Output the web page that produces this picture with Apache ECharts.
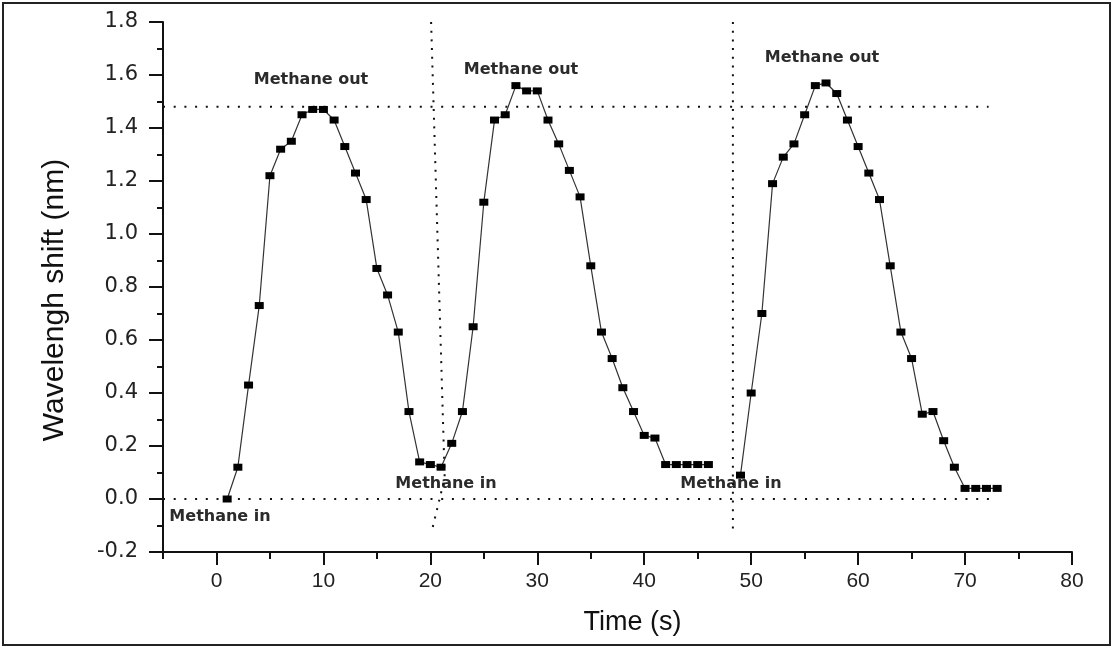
<!DOCTYPE html>
<html lang="en">

<head>
    <meta charset="UTF-8">
    <title>Wavelength shift vs time</title>
    <script type="text/javascript" src="https://cdn.jsdelivr.net/npm/echarts/dist/echarts.min.js"></script>
    <style>
        html,
        body {
            margin: 0;
            padding: 0;
            width: 100%;
            height: 100%;
            background: #fff;
        }

        #container {
            width: 1113px;
            height: 648px;
        }
    </style>
</head>

<body>
    <div id="container"></div>
    <script>
        // first run: two methane in/out cycles
        let run1Time = [1, 2, 3, 4, 5, 6, 7, 8, 9, 10, 11, 12, 13, 14, 15, 16, 17, 18, 19, 20, 21, 22, 23,
            24, 25, 26, 27, 28, 29, 30, 31, 32, 33, 34, 35, 36, 37, 38, 39, 40, 41, 42, 43, 44, 45, 46];
        let run1Shift = [0.00, 0.12, 0.43, 0.73, 1.22, 1.32, 1.35, 1.45, 1.47, 1.47, 1.43, 1.33, 1.23, 1.13,
            0.87, 0.77, 0.63, 0.33, 0.14, 0.13, 0.12, 0.21, 0.33, 0.65, 1.12, 1.43, 1.45, 1.56, 1.54, 1.54,
            1.43, 1.34, 1.24, 1.14, 0.88, 0.63, 0.53, 0.42, 0.33, 0.24, 0.23, 0.13, 0.13, 0.13, 0.13, 0.13];
        // second run: third cycle
        let run2Time = [49, 50, 51, 52, 53, 54, 55, 56, 57, 58, 59, 60, 61, 62, 63, 64, 65, 66, 67, 68, 69,
            70, 71, 72, 73];
        let run2Shift = [0.09, 0.40, 0.70, 1.19, 1.29, 1.34, 1.45, 1.56, 1.57, 1.53, 1.43, 1.33, 1.23, 1.13,
            0.88, 0.63, 0.53, 0.32, 0.33, 0.22, 0.12, 0.04, 0.04, 0.04, 0.04];

        // dotted guide lines, in axis units
        let outLevel = [[-5, 1.48], [72.2, 1.48]];
        let baseLevel = [[-5, 0], [72.6, 0]];
        let switch1 = [[20.07, 1.8], [21.34, 0.08], [20.14, -0.12]];
        let switch2 = [[48.29, 1.8], [48.29, -0.12]];

        let xMajorTicks = [0, 10, 20, 30, 40, 50, 60, 70, 80];
        let xMinorTicks = [-5, 5, 15, 25, 35, 45, 55, 65, 75];

        function zip(xs, ys) {
            return xs.map((x, i) => [x, ys[i]]);
        }

        let chart = echarts.init(document.getElementById('container'));

        let dataStyle = {
            type: 'line',
            xAxisIndex: 0,
            symbol: 'rect',
            symbolSize: [9, 7],
            itemStyle: { color: '#000' },
            lineStyle: { color: '#333', width: 1.2 },
            silent: true,
        };
        let guide = (data, dash) => ({
            type: 'line',
            xAxisIndex: 0,
            data: data,
            symbol: 'none',
            silent: true,
            lineStyle: { color: '#111', width: 2, type: dash },
        });

        let labelFont = {
            font: 'bold 16px "DejaVu Sans"',
            fill: '#2b2b2b',
            align: 'center',
            verticalAlign: 'middle',
        };
        let note = (text, x, y) => ({
            type: 'text',
            x: x,
            y: y,
            silent: true,
            style: Object.assign({ text: text }, labelFont),
        });

        let option = {
            animation: false,
            backgroundColor: '#fff',
            grid: {
                left: 163,
                right: 41,
                top: 22,
                bottom: 96,
                containLabel: false,
            },
            xAxis: [{
                    type: 'value',
                    min: -5,
                    max: 80,
                    position: 'bottom',
                    axisLine: { show: true, onZero: false, lineStyle: { color: '#111', width: 2 } },
                    axisTick: {
                        show: true,
                        customValues: xMajorTicks,
                        length: 13,
                        lineStyle: { color: '#111', width: 2 },
                    },
                    axisLabel: {
                        customValues: xMajorTicks,
                        margin: 19,
                        fontSize: 21,
                        fontFamily: '"Liberation Sans", Arial',
                        color: '#222',
                    },
                    splitLine: { show: false },
                    name: 'Time (s)',
                    nameLocation: 'middle',
                    nameGap: 57,
                    nameTextStyle: {
                        fontSize: 27,
                        fontFamily: '"Liberation Sans", Arial',
                        color: '#111',
                        padding: [0, 0, 0, 30],
                    },
                },
                {
                    type: 'value',
                    min: -5,
                    max: 80,
                    position: 'bottom',
                    axisLine: { show: false, onZero: false },
                    axisTick: {
                        show: true,
                        customValues: xMinorTicks,
                        length: 7,
                        lineStyle: { color: '#111', width: 2 },
                    },
                    axisLabel: { show: false },
                    splitLine: { show: false },
                },
            ],
            yAxis: {
                type: 'value',
                min: -0.2,
                max: 1.8,
                interval: 0.2,
                axisLine: { show: true, onZero: false, lineStyle: { color: '#111', width: 2 } },
                axisTick: { show: true, length: 14, lineStyle: { color: '#111', width: 2 } },
                minorTick: { show: true, splitNumber: 2, length: 6, lineStyle: { color: '#111', width: 2 } },
                axisLabel: {
                    margin: 25,
                    fontSize: 21,
                    fontFamily: '"DejaVu Sans"',
                    color: '#222',
                    formatter: v => (Math.abs(v) < 1e-9 ? 0 : v).toFixed(1),
                },
                splitLine: { show: false },
                minorSplitLine: { show: false },
                name: 'Wavelengh shift (nm)',
                nameLocation: 'middle',
                nameRotate: 90,
                nameGap: 93,
                nameTextStyle: {
                    fontSize: 30,
                    fontFamily: '"Liberation Sans", Arial',
                    color: '#111',
                    padding: [0, 26, 0, 0],
                },
            },
            series: [
                guide(outLevel, [2, 8.7]),
                guide(baseLevel, [2, 8.7]),
                guide(switch1, [2, 6.7]),
                guide(switch2, [2, 6.7]),
                Object.assign({ data: zip(run1Time, run1Shift) }, dataStyle),
                Object.assign({ data: zip(run2Time, run2Shift) }, dataStyle),
            ],
            graphic: [{
                    type: 'rect',
                    silent: true,
                    shape: { x: 3, y: 3, width: 1107, height: 642 },
                    style: { fill: 'none', stroke: '#222', lineWidth: 2 },
                },
                note('Methane out', 311, 80),
                note('Methane out', 521, 70),
                note('Methane out', 822, 58),
                note('Methane in', 220, 517),
                note('Methane in', 446, 484),
                note('Methane in', 731, 484),
            ],
        };

        chart.setOption(option);
    </script>
</body>

</html>
